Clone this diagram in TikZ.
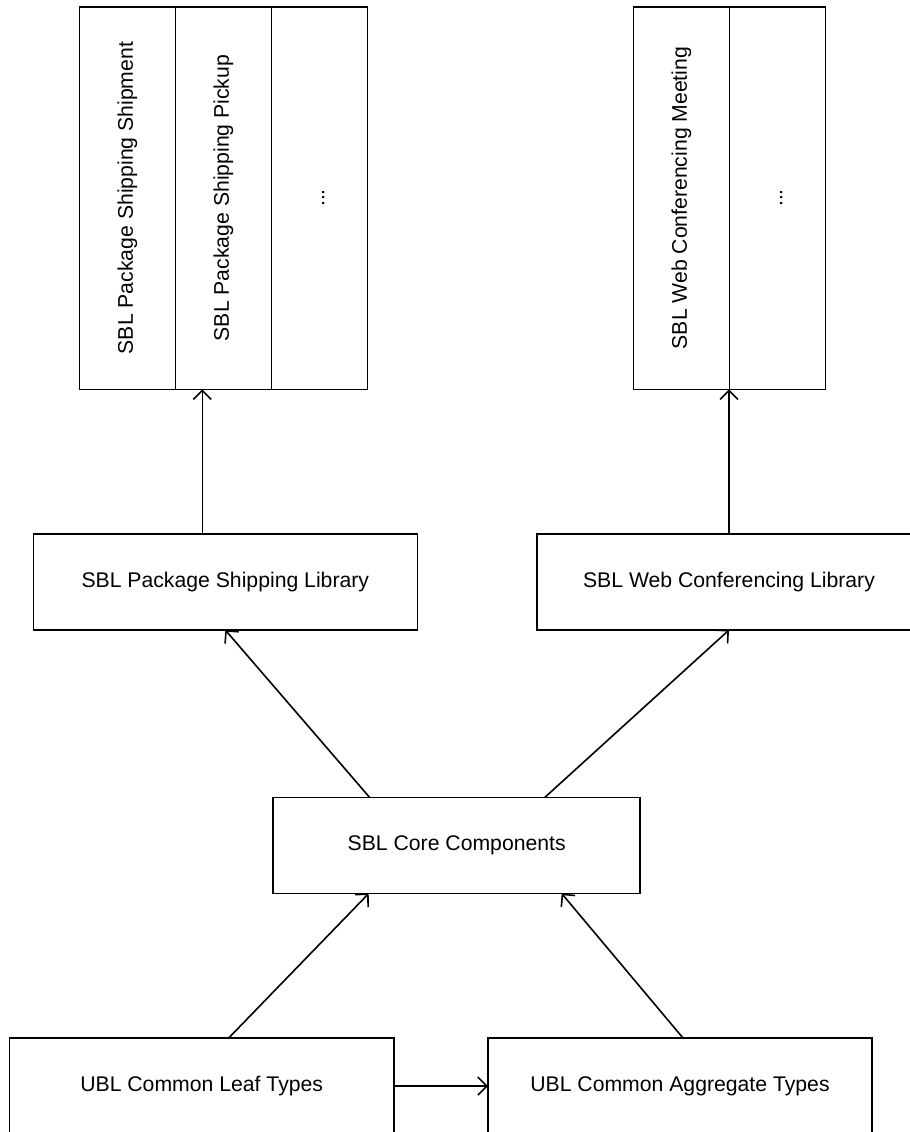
\documentclass[tikz,border=0pt]{standalone}
\usepackage{fontspec}
\setmainfont{Liberation Sans}
\usepackage{graphicx}
\usepackage{tikz}
\usetikzlibrary{positioning,arrows.meta,calc}
\tikzset{
  libbox/.style={draw,line width=0.8pt,minimum width=192pt,minimum height=48pt,inner sep=0pt,outer sep=0pt,align=center},
  docbox/.style={draw,line width=0.8pt,minimum width=48pt,minimum height=191.3pt,inner sep=0pt,outer sep=0pt},
  flow/.style={-{Straight Barb[length=4.5pt,width=9pt]},line width=0.8pt},
}

\begin{document}
\begin{tikzpicture}[x=0.5pt, y=-0.5pt, node distance=0pt, every node/.style={font=\fontsize{10.6}{12.7}\selectfont}]
  \clip (0,0) rectangle (910,1132);
  % document columns
  \node[docbox, anchor=north west] (shipment) at (79.3,6.7) {\rotatebox{90}{SBL Package Shipping Shipment}};
  \node[docbox, right=of shipment] (pickup) {\rotatebox{90}{SBL Package Shipping Pickup}};
  \node[docbox, right=of pickup] (pkgmore) {\rotatebox{90}{\vphantom{Ag}...}};
  \node[docbox, anchor=north west] (meeting) at (633.3,6.7) {\rotatebox{90}{SBL Web Conferencing Meeting}};
  \node[docbox, right=of meeting] (webmore) {\rotatebox{90}{\vphantom{Ag}...}};
  % libraries
  \node[libbox] (pkglib) at (225.3,582) {SBL Package Shipping Library};
  \node[libbox] (weblib) at (729,582) {SBL Web Conferencing Library};
  \node[libbox, minimum width=183.5pt] (core) at (456.7,845.5) {SBL Core Components};
  \node[libbox] (leaf) at (201.7,1086) {UBL Common Leaf Types};
  \node[libbox] (agg) at (680,1086) {UBL Common Aggregate Types};
  % arrows
  \coordinate (pkgup) at ([xshift=-11.5pt]pkglib.north);
  \draw[flow] (pkgup) -- (pkgup |- pickup.south);
  \draw[flow] (weblib.north) -- (weblib.north |- meeting.south);
  \draw[flow] ([xshift=-43.5pt]core.north) -- (pkglib.south);
  \draw[flow] ([xshift=44pt]core.north) -- (weblib.south);
  \draw[flow] ([xshift=13.5pt]leaf.north) -- ([xshift=-44pt]core.south);
  \draw[flow] ([xshift=1.5pt]agg.north) -- ([xshift=52.5pt]core.south);
  \draw[flow] (leaf.east) -- (agg.west);
\end{tikzpicture}
\end{document}
